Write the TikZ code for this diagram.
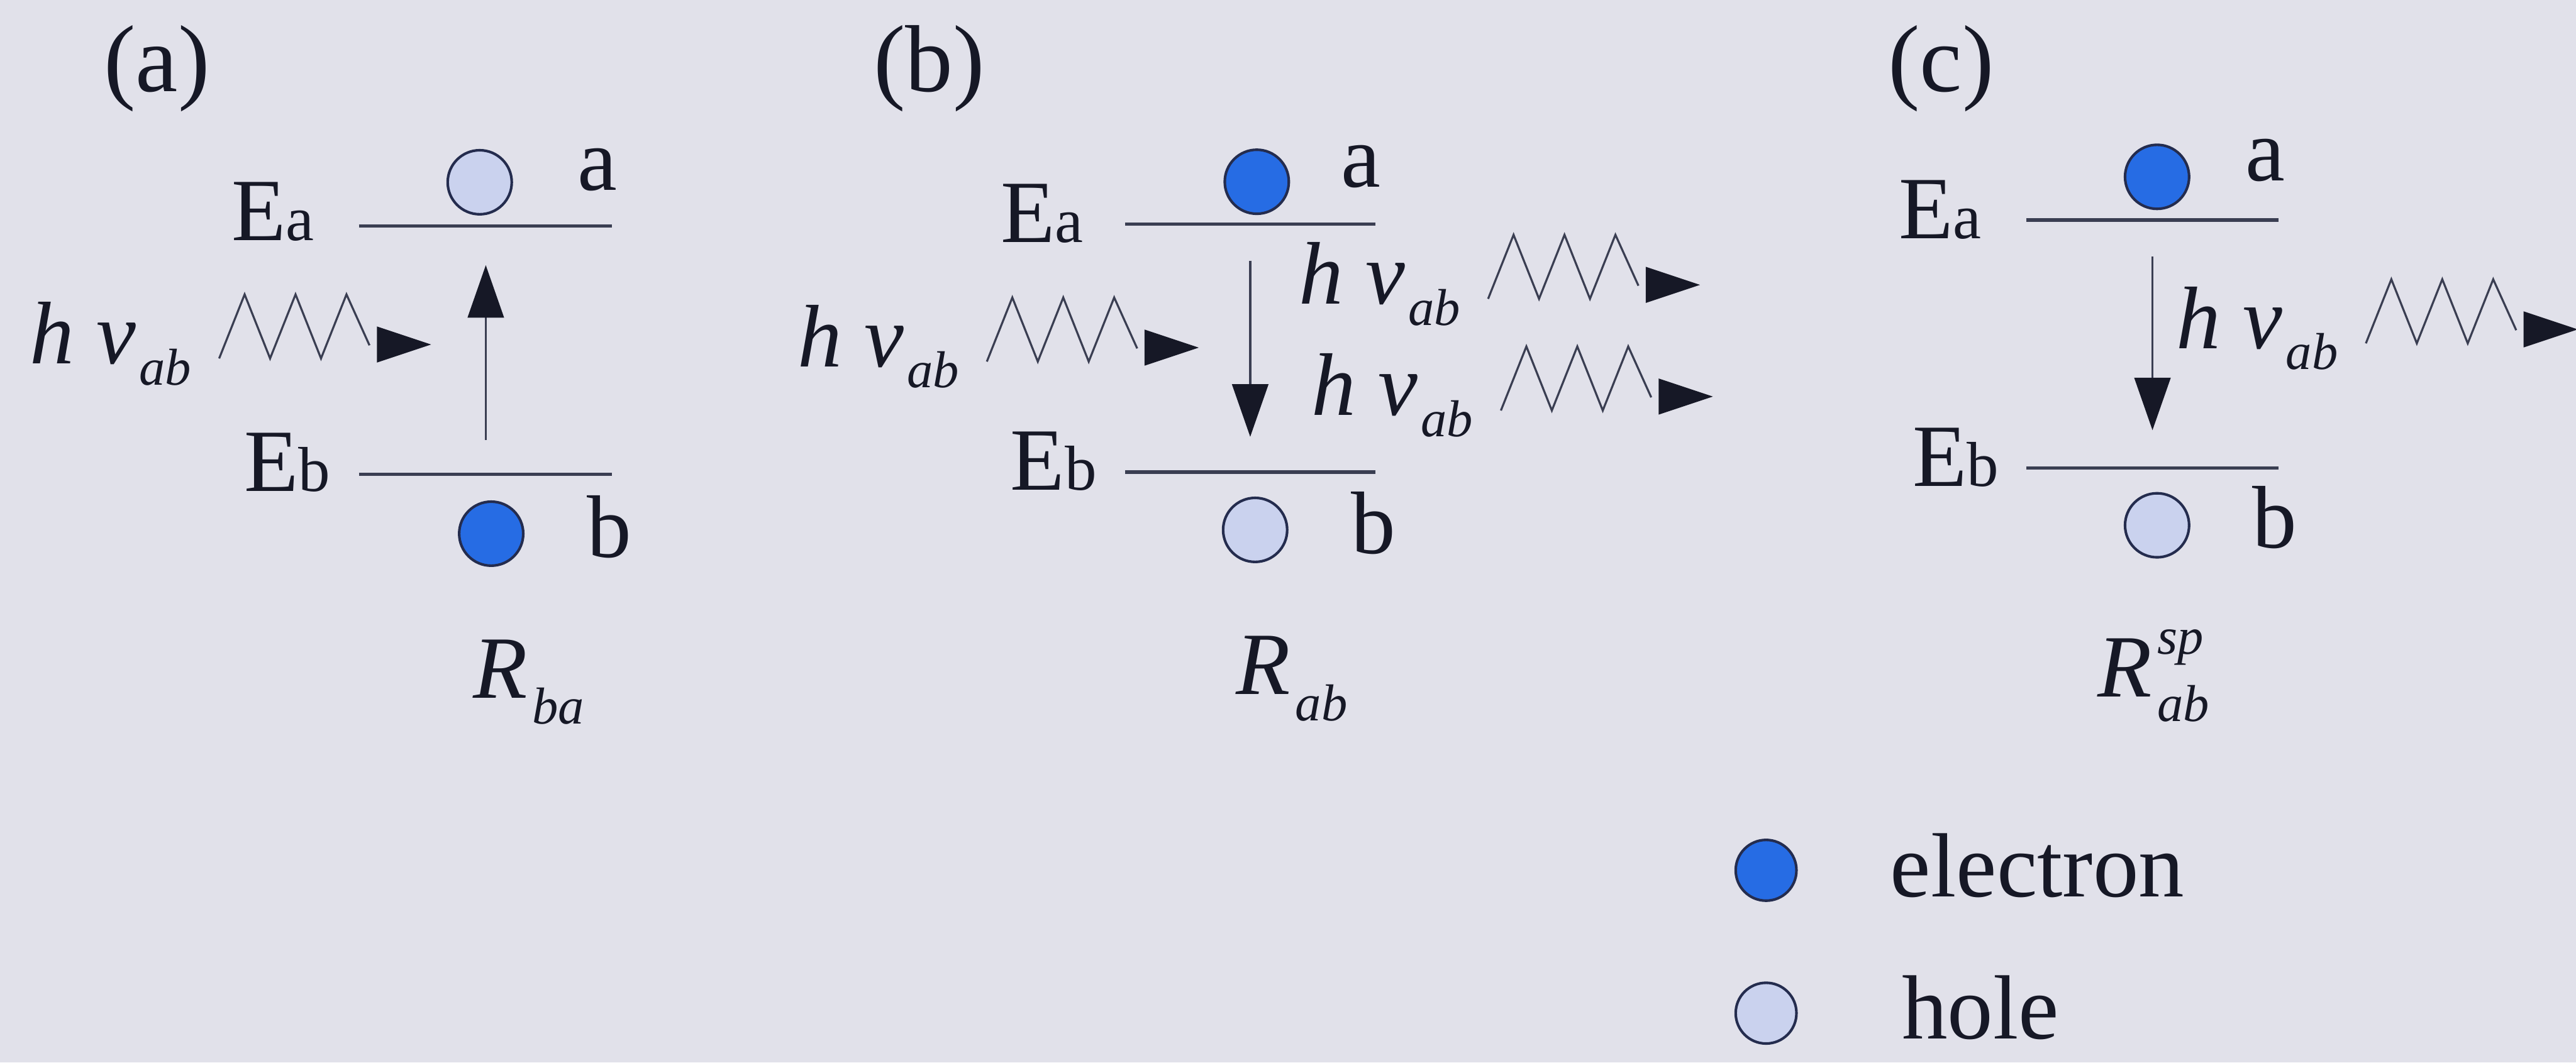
\documentclass[tikz,border=0pt]{standalone}
\usepackage{fontspec}
\setmainfont{Liberation Serif}
\usetikzlibrary{calc, positioning}
\usetikzlibrary{arrows.meta}

\definecolor{paper}{RGB}{225,225,234}
\definecolor{ink}{RGB}{22,24,38}
\definecolor{levelgray}{RGB}{58,62,82}
\definecolor{electronblue}{RGB}{38,108,228}
\definecolor{holeblue}{RGB}{202,210,238}
\definecolor{rimnavy}{RGB}{36,44,78}

\newcommand{\mainsize}{\fontsize{15.4}{18}\selectfont}
\newcommand{\levelsize}{\fontsize{11}{13}\selectfont}
\newcommand{\indexsize}{\fontsize{9}{11}\selectfont}

% photon: name, lower left corner of the zigzag
\newcommand{\photon}[2]{%
  \coordinate (#1) at #2;
  \node[txt] (#1-hnu) at ($(#1)+(-116,3)$)
    {\itshape h ν\kern0.2mm\raisebox{-1.3mm}{\indexsize ab}};
  \draw[wave] (#1) -- ++(15.5,-39) -- ++(15.5,39) -- ++(15.5,-39)
    -- ++(15.5,39) -- ++(15.5,-39) -- ++(14,31);
  \fill[ink] ($(#1)+(96,-19.5)$) -- ($(#1)+(129,-8.5)$)
    -- ($(#1)+(96,2.5)$) -- cycle;
}

\begin{document}
\begin{tikzpicture}[x=0.1mm,y=-0.1mm,
  txt/.style={anchor=base west, inner sep=0pt, text=ink, font=\mainsize},
  paneltag/.style={anchor=base, inner sep=0pt, text=ink,
    font=\fontsize{16.5}{19}\selectfont},
  energyline/.style={draw=levelgray, line width=0.55pt},
  wave/.style={draw=levelgray, line width=0.35pt},
  jump/.style={draw=levelgray, line width=0.35pt,
    -{Triangle[length=3.2mm, width=2.2mm, color=ink]}},
  electronball/.style={circle, draw=rimnavy, line width=0.45pt,
    fill=electronblue, minimum size=3.9mm, inner sep=0pt},
  holeball/.style={electronball, fill=holeblue}]

% Background
\useasboundingbox (0,0) rectangle (1568,647);
\fill[paper] (0,0) rectangle (1568,647);

% Panel tags
\node[paneltag] (tagA) at (95.5,55.6) {(a)};
\node[paneltag] (tagB) at (565.6,55.6) {(b)};
\node[paneltag] (tagC) at (1181.5,55.6) {(c)};

% (a) absorption
\coordinate (EaA-l) at (218.4,137.5);
\coordinate (EaA-r) at (372.3,137.5);
\coordinate (EbA-l) at (218.4,289);
\coordinate (EbA-r) at (372.3,289);
\draw[energyline] (EaA-l) -- (EaA-r);
\draw[energyline] (EbA-l) -- (EbA-r);
\node[txt] (EaA) at (140.3,146.4) {E{\levelsize a}};
\node[txt] (EbA) at (148,299.3) {E{\levelsize b}};
\node[holeball] (holeA) at (292,111) {};
\node[electronball] (elecA) at (299,325) {};
\node[txt] (labaA) at (351,116) {a};
\node[txt] (labbA) at (356.5,339.5) {b};
\coordinate (upA-s) at (295.7,268);
\coordinate (upA-e) at (295.7,161.5);
\draw[jump] (upA-s) -- (upA-e);
\photon{phA}{(133.4,218.3)}
\node[txt, font=\mainsize\itshape] (rateA) at (287.2,425.2)
  {R\kern0.3mm\raisebox{-1.55mm}{\indexsize ba}};

% (b) stimulated emission
\coordinate (EaB-l) at (684.8,136.5);
\coordinate (EaB-r) at (837.3,136.5);
\coordinate (EbB-l) at (684.8,287.5);
\coordinate (EbB-r) at (837.3,287.5);
\draw[energyline] (EaB-l) -- (EaB-r);
\draw[energyline] (EbB-l) -- (EbB-r);
\node[txt] (EaB) at (608.5,147.5) {E{\levelsize a}};
\node[txt] (EbB) at (614.4,298.5) {E{\levelsize b}};
\node[electronball] (elecB) at (765,110.7) {};
\node[holeball] (holeB) at (764,322.7) {};
\node[txt] (labaB) at (815.8,114) {a};
\node[txt] (labbB) at (821.7,337) {b};
\coordinate (downB-s) at (761,158.7);
\coordinate (downB-e) at (761,266);
\draw[jump] (downB-s) -- (downB-e);
\photon{phB}{(600.7,220.2)}
\photon{phBup}{(905.8,182)}
\photon{phBlow}{(913.6,250)}
\node[txt, font=\mainsize\itshape] (rateB) at (751.8,423)
  {R\kern0.3mm\raisebox{-1.6mm}{\indexsize ab}};

% (c) spontaneous emission
\coordinate (EaC-l) at (1233.4,134);
\coordinate (EaC-r) at (1387.1,134);
\coordinate (EbC-l) at (1233.4,285);
\coordinate (EbC-r) at (1387.1,285);
\draw[energyline] (EaC-l) -- (EaC-r);
\draw[energyline] (EbC-l) -- (EbC-r);
\node[txt] (EaC) at (1155.2,145.2) {E{\levelsize a}};
\node[txt] (EbC) at (1163.6,296.2) {E{\levelsize b}};
\node[electronball] (elecC) at (1313,107.7) {};
\node[holeball] (holeC) at (1313,319.9) {};
\node[txt] (labaC) at (1366.1,110) {a};
\node[txt] (labbC) at (1370.3,333.5) {b};
\coordinate (downC-s) at (1310.2,156.3);
\coordinate (downC-e) at (1310.2,262);
\draw[jump] (downC-s) -- (downC-e);
\photon{phC}{(1440.1,209.1)}
\node[txt, font=\mainsize\itshape] (rateC) at (1276.3,424.3)
  {R\kern0.3mm\rlap{\raisebox{2.6mm}{\indexsize sp}}\raisebox{-1.5mm}{\indexsize ab}};

% Legend
\node[electronball, minimum size=3.7mm] (keyElec) at (1075,530) {};
\node[holeball, minimum size=3.7mm] (keyHole) at (1075,617) {};
\node[txt, font=\fontsize{15.8}{18}\selectfont] (keyElecTxt) at (1150,546) {electron};
\node[txt, font=\fontsize{15.8}{18}\selectfont] (keyHoleTxt) at (1157,632.6) {hole};
\end{tikzpicture}
\end{document}
